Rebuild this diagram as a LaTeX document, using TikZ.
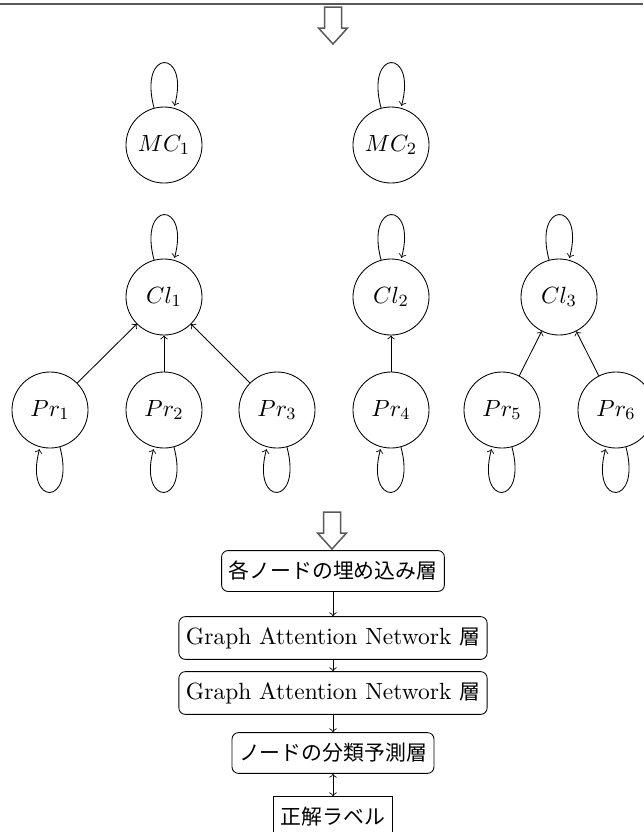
\documentclass[tikz,border=0pt]{standalone}
\usepackage{fontspec}
\newfontfamily\jp[Scale=0.89]{Noto Sans CJK JP}
\begin{document}
\begin{tikzpicture}[x=0.467pt,y=-0.467pt,
  every node/.style={font=\fontsize{10.95}{13.6}\selectfont},
  gnode/.style={circle,draw,minimum size=35.5pt,inner sep=0pt},
  layerbox/.style={draw,rounded corners=3pt,inner xsep=3.3pt,inner ysep=5pt},
  labelbox/.style={draw,inner xsep=3.3pt,inner ysep=5pt},
  flow/.style={->},
  hollow/.style={draw=black!65,line width=0.7pt,fill=white}]
\useasboundingbox (0,0) rectangle (643,832);
% top rule
\coordinate (ruleL) at (0,4);
\coordinate (ruleR) at (643,4);
\draw[black!65,line width=0.8pt] (ruleL) -- (ruleR);
% hollow arrows
\coordinate (ha1) at (333,7);
\coordinate (ha2) at (332,512);
\foreach \c in {ha1,ha2}{
  \draw[hollow] (\c) ++(-8.5,0) -- ++(0,21) -- ++(-6,0) -- ++(14.5,16) -- ++(14.5,-16) -- ++(-6,0) -- ++(0,-21) -- cycle;
}
% graph nodes
\node[gnode] (mc1) at (164,145) {$MC_1$};
\node[gnode] (mc2) at (391,145) {$MC_2$};
\node[gnode] (cl1) at (164,297) {$Cl_1$};
\node[gnode] (cl2) at (391,297) {$Cl_2$};
\node[gnode] (cl3) at (559,297) {$Cl_3$};
\node[gnode] (pr1) at (50,410) {$Pr_1$};
\node[gnode] (pr2) at (164,410) {$Pr_2$};
\node[gnode] (pr3) at (277,410) {$Pr_3$};
\node[gnode] (pr4) at (391,410) {$Pr_4$};
\node[gnode] (pr5) at (502,410) {$Pr_5$};
\node[gnode] (pr6) at (616,410) {$Pr_6$};
\foreach \n in {mc1,mc2,cl1,cl2,cl3}{
  \draw[->] (\n) edge[loop above] (\n);
}
\foreach \n in {pr1,pr2,pr3,pr4,pr5,pr6}{
  \draw[->] (\n) edge[loop below] (\n);
}
\draw[->] (pr1) -- (cl1);
\draw[->] (pr2) -- (cl1);
\draw[->] (pr3) -- (cl1);
\draw[->] (pr4) -- (cl2);
\draw[->] (pr5) -- (cl3);
\draw[->] (pr6) -- (cl3);
% layer stack
\node[layerbox] (emb) at (333,571) {\jp 各ノードの埋め込み層};
\node[layerbox] (gat1) at (333,638) {Graph Attention Network {\jp 層}};
\node[layerbox] (gat2) at (333,693) {Graph Attention Network {\jp 層}};
\node[layerbox] (cls) at (333,753) {\jp ノードの分類予測層};
\node[labelbox] (lab) at (333,817) {\jp 正解ラベル};
\draw[flow] (emb) -- (gat1);
\draw[flow] (gat1) -- (gat2);
\draw[flow] (gat2) -- (cls);
\draw[<->] (cls) -- (lab);
\end{tikzpicture}
\end{document}
